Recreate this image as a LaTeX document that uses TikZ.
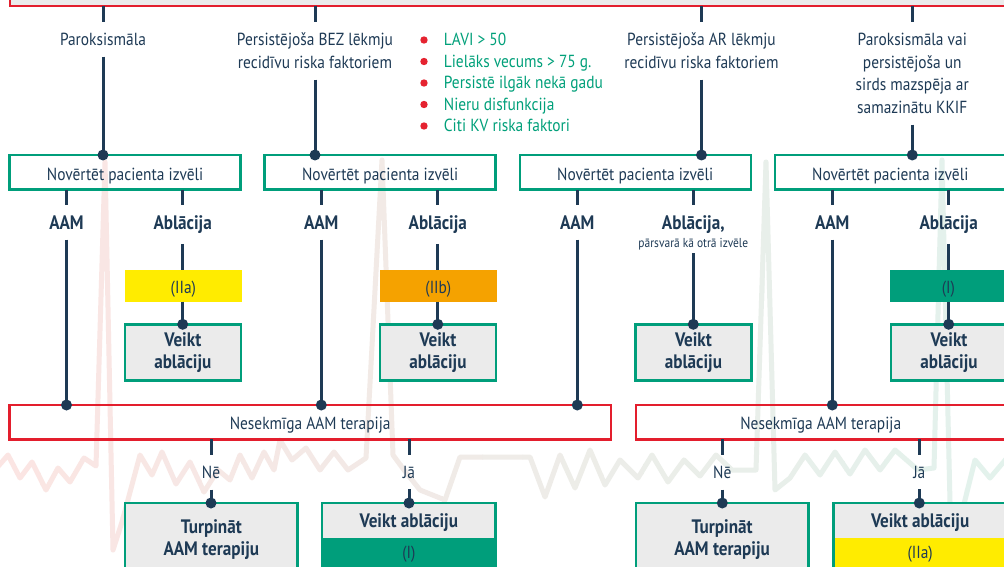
\documentclass[tikz,border=0pt]{standalone}
\usepackage{fontspec}
\setmainfont{PT Sans}[FakeStretch=0.88]
\usetikzlibrary{calc}

\definecolor{cNavy}{HTML}{1E3A55}
\definecolor{cGreen}{HTML}{009E7B}
\definecolor{cRed}{HTML}{E31E2D}
\definecolor{cYellow}{HTML}{FFEC00}
\definecolor{cOrange}{HTML}{F5A200}
\definecolor{cGray}{HTML}{EBEBEB}
\definecolor{cBullet}{HTML}{E52330}
\definecolor{cBulletText}{HTML}{00A07A}
\definecolor{cEcgL}{HTML}{FBE5E3}
\definecolor{cEcgR}{HTML}{E3F2EC}

\newcommand\fReg{\fontsize{17.5}{22.7}\selectfont}
\newcommand\fBold{\fontsize{19.5}{21.5}\selectfont\bfseries}
\newcommand\fSmall{\fontsize{13}{15}\selectfont}

\tikzset{
  conn/.style={draw=cNavy, line width=3pt},
  joint/.style={fill=cNavy},
  lbl/.style={font=\fReg, text=cNavy, align=center, inner xsep=2pt, inner ysep=11pt, outer sep=0pt},
  blbl/.style={font=\fBold, text=cNavy, align=center, inner xsep=2pt, inner ysep=10.5pt, outer sep=0pt},
  choicebox/.style={draw=cGreen, line width=2.5pt, minimum width=231pt, minimum height=34.7pt,
    font=\fReg, text=cNavy, inner sep=0pt, outer sep=0pt, text height=15.3pt, text depth=0pt},
  failbox/.style={draw=cRed, line width=2.5pt, minimum height=34.3pt,
    font=\fReg, text=cNavy, inner sep=0pt, outer sep=0pt, text height=14.3pt, text depth=0pt},
  classtag/.style={minimum width=116.7pt, minimum height=31.7pt, inner sep=0pt, outer sep=0pt,
    font=\fReg, text=cNavy, text height=16pt, text depth=0pt},
  actbox/.style={draw=cGreen, line width=2.5pt, fill=cGray, minimum width=116pt, minimum height=56.4pt,
    font=\fBold, text=cNavy, align=center, inner sep=0pt, outer sep=0pt},
  outbox/.style={draw=cGreen, line width=2.5pt, fill=cGray, minimum height=100pt, anchor=north,
    inner sep=0pt, outer sep=0pt},
  band/.style={minimum height=33pt, anchor=north, inner sep=0pt, outer sep=0pt, font=\fReg, text=cNavy},
  bullettext/.style={font=\fReg, text=cBulletText, anchor=base west, inner sep=0pt},
  bulletdot/.style={circle, fill=cBullet, minimum size=7.4pt, inner sep=0pt},
  ecg/.style={line width=5pt, line join=round, line cap=round},
}

\begin{document}
\begin{tikzpicture}[x=1pt, y=-1pt]
\useasboundingbox (0,0) rectangle (1004,567);
\clip (0,0) rectangle (1004,567);
\fill[white] (0,0) rectangle (1004,567);

% faint ECG trace behind the chart, fading from red to green
\foreach \i in {0,...,24} {
  \pgfmathtruncatemacro\pc{100-4.17*\i}
  \colorlet{ecgstrip}{cEcgL!\pc!cEcgR}
  \begin{scope}
    \clip ({\i*40.2},-10) rectangle ({(\i+1)*40.2+0.6},600);
    \draw[ecg, draw=ecgstrip]
      (-5,470) -- (8,455) -- (20,478) -- (32,462) -- (46,490) -- (58,468) -- (70,482)
      -- (84,458) -- (96,466) -- (105,162) -- (113,550) -- (122,522) -- (140,455)
      -- (152,475) -- (162,452) -- (176,484) -- (190,462) -- (204,492) -- (218,470)
      -- (230,480) -- (240,455) -- (252,478) -- (264,452) -- (274,470) -- (280,440)
      -- (292,460) -- (306,448) -- (320,470) -- (334,452) -- (348,470) -- (366,458)
      -- (382,160) -- (393,455) -- (404,470) -- (420,490) -- (445,500) -- (460,457)
      -- (530,457) -- (545,497) -- (560,455) -- (575,488) -- (590,450) -- (605,485)
      -- (620,460) -- (638,478) -- (652,455) -- (668,482) -- (684,460) -- (700,476)
      -- (716,455) -- (732,470) -- (756,470) -- (766,162) -- (775,490) -- (790,478)
      -- (805,455) -- (820,475) -- (835,452) -- (850,474) -- (865,450) -- (880,470)
      -- (895,450) -- (918,470) -- (934,468) -- (942,160) -- (951,545) -- (960,520)
      -- (975,460) -- (990,478) -- (1012,452);
  \end{scope}
}

% header bar
\node[draw=cRed, line width=2.5pt, fill=cGray, minimum width=1030pt, minimum height=60pt,
      anchor=south west, inner sep=0pt, outer sep=0pt] (top) at (10,6) {};

% AF categories
\node[lbl, anchor=north] (c1) at (103,22) {Paroksismāla};
\node[lbl, anchor=north] (c2) at (315,22) {Persistējoša BEZ lēkmju\\recidīvu riska faktoriem};
\node[lbl, anchor=north] (c3) at (701.5,22) {Persistējoša AR lēkmju\\recidīvu riska faktoriem};
\node[lbl, anchor=north] (c4) at (912.3,22) {Paroksismāla vai\\persistējoša un\\sirds mazspēja ar\\samazinātu KKIF};

% risk factor list
\node[bulletdot] (r1d) at (424,40) {};
\node[bulletdot] (r2d) at (424,61.5) {};
\node[bulletdot] (r3d) at (424,83) {};
\node[bulletdot] (r4d) at (424,104.5) {};
\node[bulletdot] (r5d) at (424,126) {};
\node[bullettext] (r1) at (443.7,45.7) {LAVI > 50};
\node[bullettext] (r2) at (443.7,67.2) {Lielāks vecums > 75 g.};
\node[bullettext] (r3) at (443.7,88.7) {Persistē ilgāk nekā gadu};
\node[bullettext] (r4) at (443.7,110.2) {Nieru disfunkcija};
\node[bullettext] (r5) at (443.7,131.7) {Citi KV riska faktori};

% patient choice boxes
\node[choicebox] (n1) at (125.1,172.35) {Novērtēt pacienta izvēli};
\node[choicebox] (n2) at (380.2,172.35) {Novērtēt pacienta izvēli};
\node[choicebox] (n3) at (635.25,172.35) {Novērtēt pacienta izvēli};
\node[choicebox] (n4) at (890.3,172.35) {Novērtēt pacienta izvēli};

% treatment options
\node[blbl, anchor=north] (a1) at (66.5,205) {AAM};
\node[blbl, anchor=north] (b1) at (182.7,205) {Ablācija};
\node[blbl, anchor=north] (a2) at (321.3,205) {AAM};
\node[blbl, anchor=north] (b2) at (437.8,205) {Ablācija};
\node[blbl, anchor=north] (a3) at (577.3,205) {AAM};
\node[blbl, anchor=north] (b3) at (693.3,205) {Ablācija,};
\node[lbl, font=\fSmall, anchor=north, inner ysep=3pt] (b3s) at (693.3,235.5) {pārsvarā kā otrā izvēle};
\node[blbl, anchor=north] (a4) at (832.3,205) {AAM};
\node[blbl, anchor=north] (b4) at (948.7,205) {Ablācija};

% recommendation classes
\node[classtag, fill=cYellow] (k1) at (183.35,285.85) {(IIa)};
\node[classtag, fill=cOrange] (k2) at (438.35,285.85) {(IIb)};
\node[classtag, fill=cGreen] (k4) at (948.3,285.85) {(I)};

% ablation boxes
\node[actbox] (v1) at (182.85,352.5) {Veikt\\ablāciju};
\node[actbox] (v2) at (438,352.5) {Veikt\\ablāciju};
\node[actbox] (v3) at (693.5,352.5) {Veikt\\ablāciju};
\node[actbox] (v4) at (949,352.5) {Veikt\\ablāciju};

% failed drug therapy
\node[failbox, minimum width=601.7pt] (nes1) at (310.15,422.15) {Nesekmīga AAM terapija};
\node[failbox, minimum width=369.5pt] (nes2) at (820.75,422.15) {Nesekmīga AAM terapija};

% answers
\node[lbl, anchor=north] (no1) at (211,455) {Nē};
\node[lbl, anchor=north] (yes1) at (409,455) {Jā};
\node[lbl, anchor=north] (no2) at (722.3,455) {Nē};
\node[lbl, anchor=north] (yes2) at (919.3,455) {Jā};

% outcome boxes
\node[outbox, minimum width=172.7pt] (t1) at (211.35,503) {};
\node[font=\fBold, text=cNavy, align=center, anchor=north, inner sep=0pt] (t1t) at (211.35,519.5) {Turpināt\\AAM terapiju};
\node[outbox, minimum width=173.7pt] (j1) at (408.85,503) {};
\node[band, fill=cGreen, minimum width=171.2pt] (j1c) at (408.85,538) {(I)};
\node[font=\fBold, text=cNavy, anchor=base, inner sep=0pt] (j1t) at (408.85,527.3) {Veikt ablāciju};

\node[outbox, minimum width=172.3pt] (t2) at (722.15,503) {};
\node[font=\fBold, text=cNavy, align=center, anchor=north, inner sep=0pt] (t2t) at (722.15,519.5) {Turpināt\\AAM terapiju};
\node[outbox, minimum width=173.7pt] (j2) at (920.15,503) {};
\node[band, fill=cYellow, minimum width=171.2pt] (j2c) at (920.15,538) {(IIa)};
\node[font=\fBold, text=cNavy, anchor=base, inner sep=0pt] (j2t) at (920.15,527.3) {Veikt ablāciju};

% connectors: header to categories to choice boxes
\foreach \c/\n in {c1/n1, c2/n2, c3/n3, c4/n4} {
  \draw[conn] (top.south -| \c) -- (\c.north);
  \draw[conn] (\c.south) -- (\n.north -| \c);
  \fill[joint] (\n.north -| \c) circle[radius=5.5pt];
}

% choice boxes to drug therapy and on to failure boxes
\foreach \n/\a/\f in {n1/a1/nes1, n2/a2/nes1, n3/a3/nes1, n4/a4/nes2} {
  \draw[conn] (\n.south -| \a) -- (\a.north);
  \draw[conn] (\a.south) -- (\f.north -| \a);
  \fill[joint] (\f.north -| \a) circle[radius=5.5pt];
}

% choice boxes to ablation through the class tags
\foreach \n/\b/\k/\v in {n1/b1/k1/v1, n2/b2/k2/v2, n4/b4/k4/v4} {
  \draw[conn] (\n.south -| \b) -- (\b.north);
  \draw[conn] (\b.south) -- (\k.north -| \b);
  \draw[conn] (\k.south -| \b) -- (\v.north -| \b);
  \fill[joint] (\v.north -| \b) circle[radius=5.5pt];
}
\draw[conn] (n3.south -| b3) -- (b3.north);
\draw[conn] (b3s.south) -- (v3.north -| b3s);
\fill[joint] (v3.north -| b3s) circle[radius=5.5pt];

% failure boxes to outcomes
\foreach \f/\q/\o in {nes1/no1/t1, nes1/yes1/j1, nes2/no2/t2, nes2/yes2/j2} {
  \draw[conn] (\f.south -| \q) -- (\q.north);
  \draw[conn] (\q.south) -- (\o.north -| \q);
  \fill[joint] (\o.north -| \q) circle[radius=5.5pt];
}
\end{tikzpicture}
\end{document}
